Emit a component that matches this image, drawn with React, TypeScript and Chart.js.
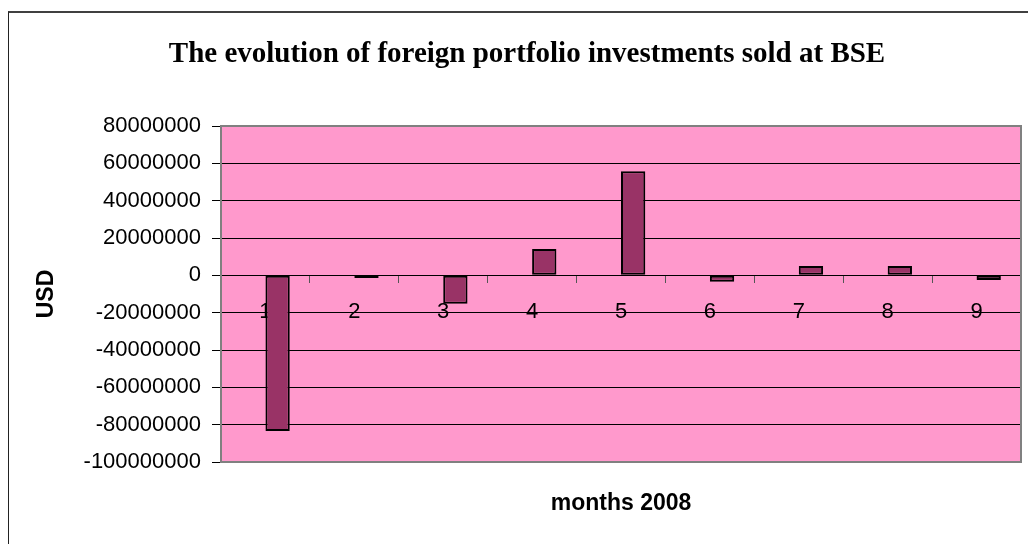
import React, { useEffect, useRef } from "react";
import { Chart, registerables } from "chart.js";

Chart.register(...registerables);

const months: string[] = ["1", "2", "3", "4", "5", "6", "7", "8", "9"];
const emptySeries: (number | null)[] = [null, null, null, null, null, null, null, null, null];
const soldValues: number[] = [
  -83400000, -1400000, -15200000, 14100000, 55700000, -3400000, 5000000, 5000000, -2500000,
];
const yMin = -100000000;
const yMax = 80000000;
const yStep = 20000000;
const titleText = "The evolution of foreign portfolio investments sold at BSE";
const xTitleText = "months 2008";
const yTitleText = "USD";

const SANS = "'Liberation Sans', Arial, sans-serif";
const SERIF = "'Liberation Serif', 'Times New Roman', serif";

const plotArea = {
  id: "plotArea",
  beforeDraw(chart: any) {
    const { ctx, chartArea } = chart;
    const { left, top, width, height } = chartArea;
    ctx.save();
    ctx.fillStyle = "#FF99CC";
    ctx.fillRect(left, top, width, height);
    ctx.restore();
  },
  beforeDatasetsDraw(chart: any) {
    const { ctx, chartArea } = chart;
    const { left, top, width, height } = chartArea;
    ctx.save();
    ctx.strokeStyle = "#808080";
    ctx.lineWidth = 2;
    ctx.strokeRect(left, top, width, height);
    ctx.restore();
  },
};

export default function App() {
  const canvasRef = useRef<HTMLCanvasElement | null>(null);

  useEffect(() => {
    if (!canvasRef.current) return;
    const chart = new Chart(canvasRef.current, {
      type: "bar",
      data: {
        labels: months,
        datasets: [
          {
            label: "Series 1",
            data: emptySeries,
            backgroundColor: "#9999FF",
            borderColor: "#000000",
            borderWidth: 2,
          },
          {
            label: "Foreign portfolio investments sold",
            data: soldValues,
            backgroundColor: "#993366",
            borderColor: "#000000",
            borderWidth: 2,
            borderSkipped: false,
          },
        ],
      },
      options: {
        responsive: false,
        animation: false,
        devicePixelRatio: 1,
        datasets: {
          bar: { categoryPercentage: 0.547, barPercentage: 1 },
        },
        layout: { padding: { left: 33, right: 7, top: 0, bottom: 0 } },
        plugins: {
          legend: { display: false },
          tooltip: { enabled: false },
          title: {
            display: true,
            text: titleText,
            color: "#000000",
            font: { family: SERIF, size: 29, weight: "bold" },
            padding: { top: 37, bottom: 54.2 },
          },
          subtitle: {
            display: true,
            position: "bottom",
            fullSize: false,
            text: xTitleText,
            color: "#000000",
            font: { family: SANS, size: 23, weight: "bold" },
            padding: { top: 28, bottom: 26.4 },
          },
        },
        scales: {
          x: {
            position: { y: 0 } as any,
            grid: {
              drawOnChartArea: false,
              drawTicks: true,
              tickLength: 7,
              color: "#555555",
              offset: true,
            },
            border: { display: true, color: "#000000", width: 1 },
            ticks: {
              color: "#000000",
              font: { family: SANS, size: 22 },
              padding: 16,
              maxRotation: 0,
            },
          },
          y: {
            min: yMin,
            max: yMax,
            afterFit: (scale: any) => {
              scale.width = 188;
            },
            ticks: {
              stepSize: yStep,
              color: "#000000",
              font: { family: SANS, size: 22 },
              padding: 11,
              callback: (v: any) => String(v),
            },
            grid: { color: "#000000", lineWidth: 1, tickLength: 9, drawTicks: true },
            border: { display: false },
            title: {
              display: true,
              text: yTitleText,
              color: "#000000",
              font: { family: SANS, size: 23, weight: "bold" },
              padding: 0,
            },
          },
        },
      },
      plugins: [plotArea],
    } as any);
    return () => chart.destroy();
  }, []);

  return (
    <div
      style={{
        position: "fixed",
        left: 0,
        top: 0,
        width: 1028,
        height: 544,
        overflow: "hidden",
        background: "#ffffff",
      }}
    >
      <div
        style={{
          position: "absolute",
          left: 8,
          top: 11,
          width: 1200,
          height: 700,
          borderTop: "2px solid #404040",
          borderLeft: "1.5px solid #222222",
        }}
      />
      <canvas
        ref={canvasRef}
        width={1028}
        height={544}
        style={{ position: "absolute", left: 0, top: 0, width: 1028, height: 544 }}
      />
    </div>
  );
}
